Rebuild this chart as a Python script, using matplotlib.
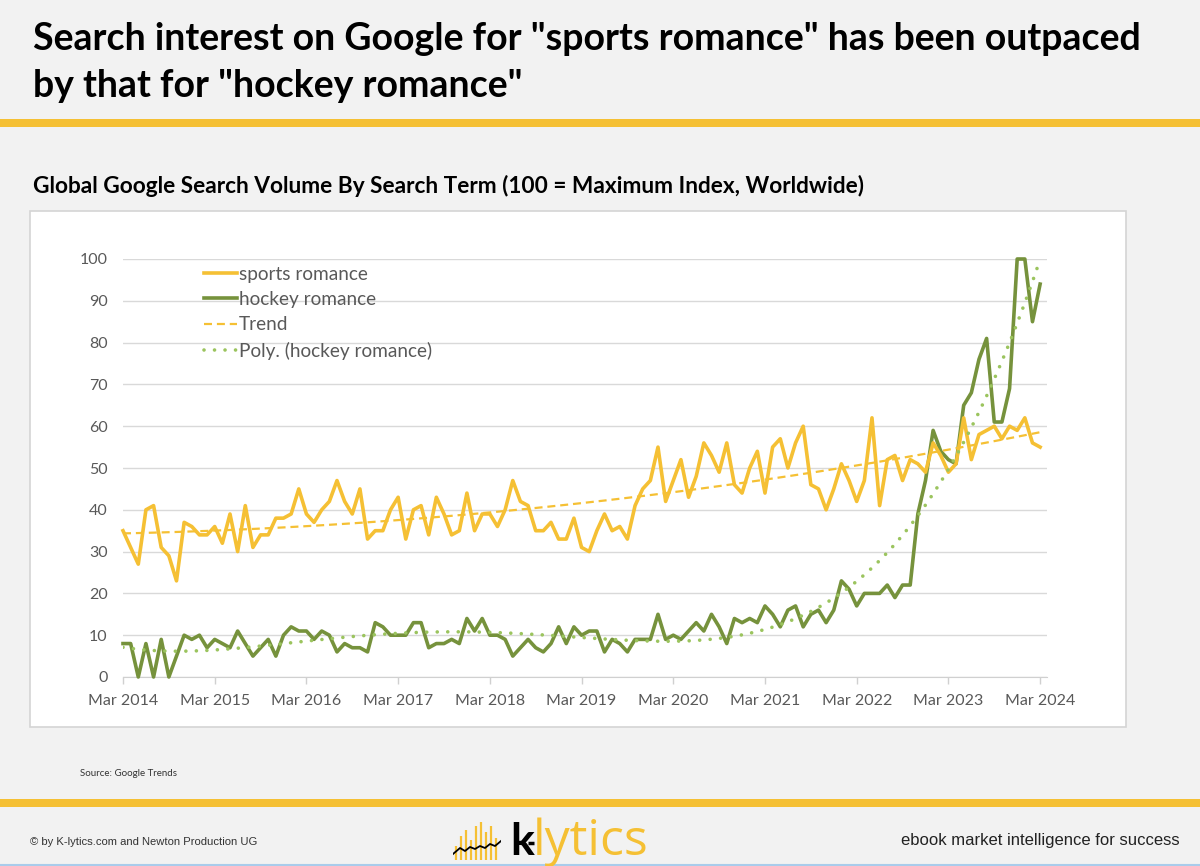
import matplotlib
matplotlib.use('Agg')
import matplotlib.pyplot as plt
import matplotlib.patches as patches
from matplotlib.lines import Line2D
import numpy as np

# monthly index values, Mar 2014 .. Mar 2024
sports = [35, 31, 27, 40, 41, 31, 29, 23, 37, 36, 34, 34, 36, 32, 39, 30, 41, 31, 34, 34,
          38, 38, 39, 45, 39, 37, 40, 42, 47, 42, 39, 45, 33, 35, 35, 40, 43, 33, 40, 41,
          34, 43, 39, 34, 35, 44, 35, 39, 39, 36, 40, 47, 42, 41, 35, 35, 37, 33, 33, 38,
          31, 30, 35, 39, 35, 36, 33, 41, 45, 47, 55, 42, 47, 52, 43, 48, 56, 53, 49, 56,
          46, 44, 50, 54, 44, 55, 57, 50, 56, 60, 46, 45, 40, 45, 51, 47, 42, 47, 62, 41,
          52, 53, 47, 52, 51, 49, 56, 53, 49, 51, 62, 52, 58, 59, 60, 57, 60, 59, 62, 56,
          55]
hockey = [8, 8, 0, 8, 0, 9, 0, 5, 10, 9, 10, 7, 9, 8, 7, 11, 8, 5, 7, 9,
          5, 10, 12, 11, 11, 9, 11, 10, 6, 8, 7, 7, 6, 13, 12, 10, 10, 10, 13, 13,
          7, 8, 8, 9, 8, 14, 11, 14, 10, 10, 9, 5, 7, 9, 7, 6, 8, 12, 8, 12,
          10, 11, 11, 6, 9, 8, 6, 9, 9, 9, 15, 9, 10, 9, 11, 13, 11, 15, 12, 8,
          14, 13, 14, 13, 17, 15, 12, 16, 17, 12, 15, 16, 13, 16, 23, 21, 17, 20, 20, 20,
          22, 19, 22, 22, 39, 47, 59, 54, 52, 51, 65, 68, 76, 81, 61, 61, 69, 100, 100, 85,
          94]
tick_labels = ['Mar 2014', 'Mar 2015', 'Mar 2016', 'Mar 2017', 'Mar 2018', 'Mar 2019',
               'Mar 2020', 'Mar 2021', 'Mar 2022', 'Mar 2023', 'Mar 2024']
series_names = ['sports romance', 'hockey romance', 'Trend', 'Poly. (hockey romance)']

YELLOW = '#F5C034'
GREEN = '#76923C'
LIGHTGREEN = '#9BC45E'
GRAY = '#595959'

W, H = 1200, 866
fig = plt.figure(figsize=(W / 100, H / 100), dpi=100)
fig.patch.set_facecolor('#F2F2F2')


def fx(px):
    return px / W


def fy(py):
    return 1 - py / H


# titles and yellow rules
fig.text(fx(33), fy(39), 'Search interest on Google for "sports romance" has been outpaced',
         fontsize=27, fontweight='bold', family='Lato', va='center', ha='left')
fig.text(fx(33), fy(86), 'by that for "hockey romance"',
         fontsize=27, fontweight='bold', family='Lato', va='center', ha='left')
fig.patches.append(patches.Rectangle((0, fy(127)), 1, 8 / H, transform=fig.transFigure,
                                     facecolor=YELLOW, edgecolor='none'))
fig.text(fx(33), fy(186), 'Global Google Search Volume By Search Term (100 = Maximum Index, Worldwide)',
         fontsize=16.3, fontweight='bold', family='Lato', va='center', ha='left')

# white chart box (behind the axes)
fig.patches.append(patches.Rectangle((fx(30), fy(727)), (1126 - 30) / W, (727 - 211) / H,
                                     transform=fig.transFigure, facecolor='white',
                                     edgecolor='#D4D4D4', linewidth=1.2, zorder=-1))

# chart
ax = fig.add_axes([fx(123), fy(677), (1047 - 123) / W, (677 - 259) / H])
ax.set_facecolor('white')
t = np.arange(len(sports))

trend = np.polyval(np.polyfit(t, sports, 2), t)
poly = np.polyval(np.polyfit(t, hockey, 4), t)

ax.plot(t, sports, color=YELLOW, lw=2.6, label=series_names[0], zorder=4,
        solid_joinstyle='round', clip_on=False)
ax.plot(t, hockey, color=GREEN, lw=2.6, label=series_names[1], zorder=3,
        solid_joinstyle='round', clip_on=False)
ax.plot(t, trend, color=YELLOW, lw=1.6, ls=(0, (3.6, 2.2)), label=series_names[2], zorder=5)
ax.plot(t, poly, color=LIGHTGREEN, lw=2.6, ls=(0, (0.01, 2.9)), dash_capstyle='round',
        label=series_names[3], zorder=5)

ax.set_xlim(0, 120.9)
ax.set_ylim(0, 100)
ax.set_yticks(range(0, 101, 10))
ax.set_xticks(range(0, 121, 12))
ax.set_xticklabels(tick_labels)
ax.grid(axis='y', color='#D9D9D9', lw=1)
ax.set_axisbelow(True)
for s in ['top', 'right', 'left']:
    ax.spines[s].set_visible(False)
ax.spines['bottom'].set_color('#D0D0D0')
ax.tick_params(axis='y', length=0, pad=11, labelsize=11.5, labelcolor=GRAY)
ax.tick_params(axis='x', length=5, width=1, color='#D0D0D0', pad=7, labelsize=11.5,
               labelcolor=GRAY)
for lab in ax.get_xticklabels() + ax.get_yticklabels():
    lab.set_family('Lato')

leg = ax.legend(loc='upper left', bbox_to_anchor=((204 - 123) / 924, 0.984),
                frameon=False, handlelength=1.75, handletextpad=0.1,
                labelspacing=0.44, borderpad=0, borderaxespad=0,
                prop={'family': 'Lato', 'size': 13.7})
for txt in leg.get_texts():
    txt.set_color(GRAY)

# footer
fig.text(fx(80), fy(774), 'Source: Google Trends', fontsize=7, family='Lato',
         va='center', ha='left', color='#333333')
fig.patches.append(patches.Rectangle((0, fy(807)), 1, 8 / H, transform=fig.transFigure,
                                     facecolor=YELLOW, edgecolor='none'))
fig.text(fx(30), fy(842), '\u00a9 by K-lytics.com and Newton Production UG', fontsize=8.1,
         family='Liberation Sans', va='center', ha='left', color='#333333')
fig.text(fx(1180), fy(840), 'ebook market intelligence for success', fontsize=12,
         family='Liberation Sans', va='center', ha='right', color='#222222')

# logo
lax = fig.add_axes([fx(453), fy(860), 48 / W, 42 / H])
lax.set_xlim(0, 48)
lax.set_ylim(0, 42)
lax.axis('off')
bar_x = [3, 8, 13, 18, 23, 28, 33, 38, 43]
bar_h = [14, 24, 30, 20, 34, 38, 28, 34, 22]
for bx, bh in zip(bar_x, bar_h):
    lax.plot([bx, bx], [0, bh], color=YELLOW, lw=1.6, solid_capstyle='butt')
lax.plot([0, 7, 12, 17, 22, 27, 32, 37, 42, 48], [6, 12, 9, 13, 11, 14, 12, 16, 14, 19],
         color='black', lw=1.3)
fig.text(fx(510), fy(855), 'k', fontsize=32, family='Lato', fontweight='bold',
         color='black', va='baseline', ha='left')
fig.add_artist(Line2D([fx(528), fx(534)], [fy(843), fy(843)], transform=fig.transFigure,
                      color='black', lw=2.5, solid_capstyle='butt'))
fig.text(fx(533), fy(855), 'lytics', fontsize=36, family='Open Sans', color=YELLOW,
         va='baseline', ha='left')

fig.add_artist(Line2D([0, 1], [fy(864.5), fy(864.5)], transform=fig.transFigure,
                      color='#A9CCEB', lw=1.5))

fig.savefig('out.png', dpi=100, facecolor=fig.get_facecolor())
